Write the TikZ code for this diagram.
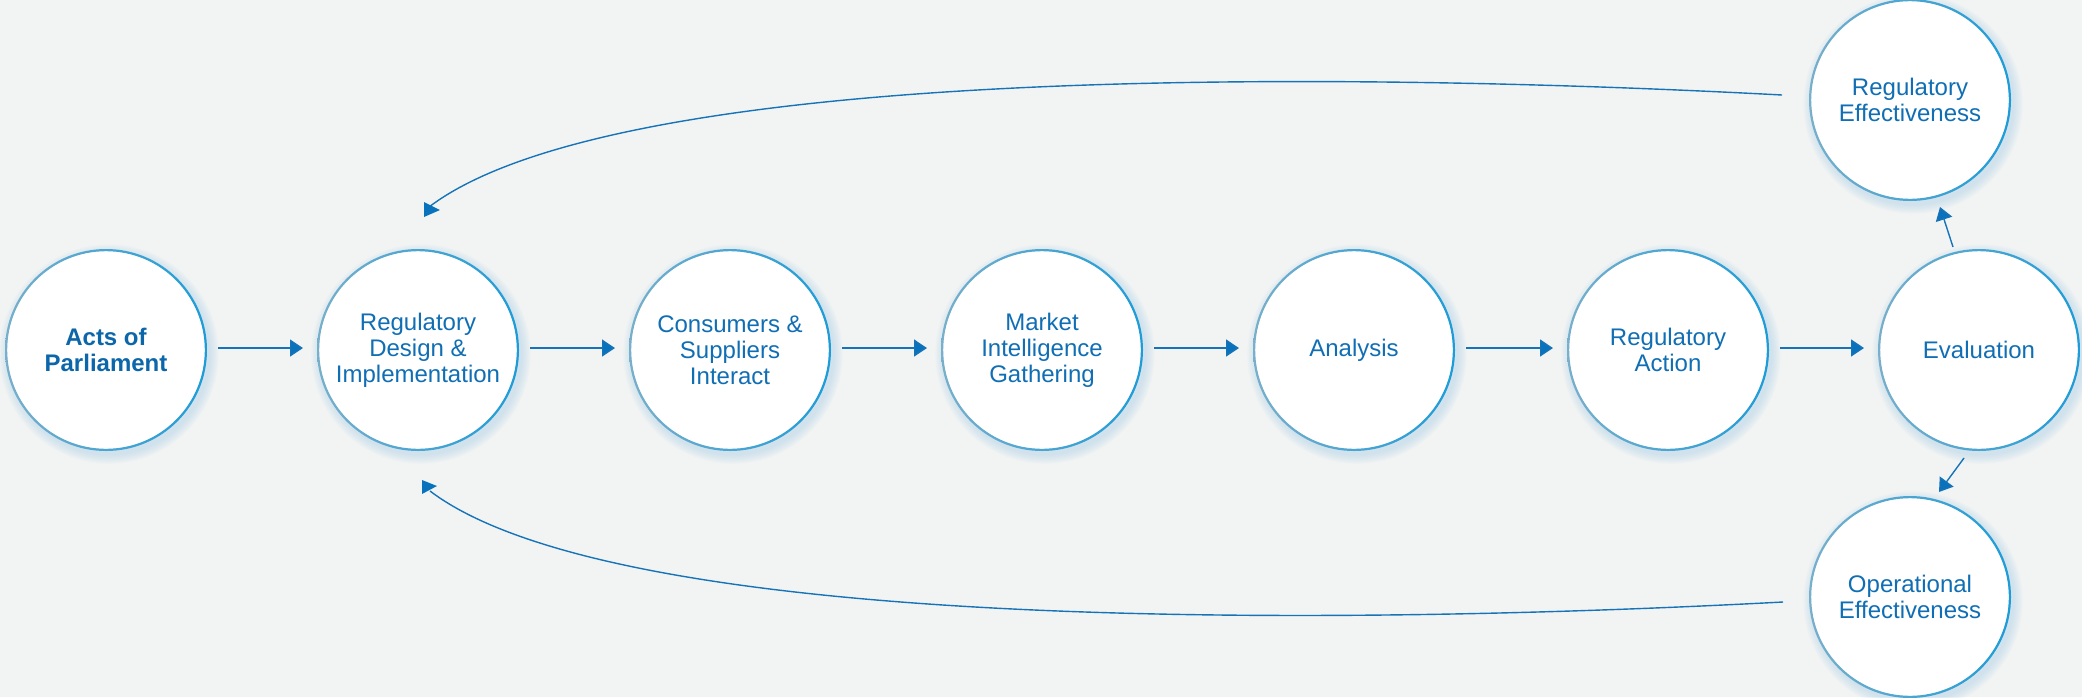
\documentclass[tikz,border=0pt]{standalone}
\usepackage{fontspec}
\setmainfont{Liberation Sans}
\usetikzlibrary{arrows.meta}
\definecolor{bg}{HTML}{F2F4F4}
\definecolor{txt}{HTML}{106EB4}
\definecolor{txtb}{HTML}{0B66AA}
\definecolor{ringL}{HTML}{78AFCB}
\definecolor{ringR}{HTML}{1C9CD8}
\definecolor{glow}{HTML}{A8CFE6}
\definecolor{lnc}{HTML}{1673B8}
\definecolor{headc}{HTML}{0872BC}
\begin{document}
\begin{tikzpicture}[x=0.5pt,y=-0.5pt,
  bub/.style={circle,minimum size=99pt,inner sep=0pt,outer sep=0pt,fill=white,text=txt,align=center,font=\fontsize{12pt}{13pt}\selectfont},
  conn/.style={draw=lnc,line width=0.7pt},
  arr/.style={conn,-{Triangle[length=6.5pt,width=8.5pt,fill=headc]}},
  glowc/.style={fill=glow,opacity=0.085}
]
\fill[bg] (0,0) rectangle (2082,697);
\useasboundingbox (0,0) rectangle (2082,697);
% soft glow
\foreach \x/\y in {106/350,418/350,730/350,1042/350,1354/350,1668/350,1979/350,1910/100,1910/597}{
  \foreach \k in {1,...,6}{
    \fill[glowc] (\x+3,\y+4) circle[radius={(50+0.8*\k)*1pt}];
  }
}
% nodes
\node[bub] (ap) at (106,350) {\textbf{\color{txtb}Acts of}\\\textbf{\color{txtb}Parliament}};
\node[bub] (rd) at (418,350) {Regulatory\\Design \&\\Implementation};
\node[bub] (cs) at (730,350) {Consumers \&\\Suppliers\\Interact};
\node[bub] (mi) at (1042,350) {Market\\Intelligence\\Gathering};
\node[bub] (an) at (1354,350) {Analysis};
\node[bub] (ra) at (1668,350) {Regulatory\\Action};
\node[bub] (ev) at (1979,350) {Evaluation};
\node[bub] (re) at (1910,100) {Regulatory\\Effectiveness};
\node[bub] (oe) at (1910,597) {Operational\\Effectiveness};
% rings
\foreach \n in {ap,rd,cs,mi,an,ra,ev,re,oe}{
  \shade[left color=ringL,right color=ringR,even odd rule] (\n.center) circle[radius=50.5pt] (\n.center) circle[radius=49.4pt];
}
% horizontal connectors
\foreach \a/\b in {ap/rd,rd/cs,cs/mi,mi/an,an/ra,ra/ev}{
  \draw[arr] ([xshift=6.5pt,yshift=1pt]\a.east) -- ([xshift=-8pt,yshift=1pt]\b.west);
}
% evaluation branches
\draw[arr] ([shift={(-26,-103)}]ev.center) -- ([shift={(30,107)}]re.center);
\draw[arr] ([shift={(-15,108)}]ev.center) -- ([shift={(29,-105)}]oe.center);
% feedback curves
\draw[conn] ([shift={(-128,-5)}]re.center) .. controls (1350,72) and (620,62) .. ([shift={(11,-143)}]rd.center) coordinate (te);
\fill[headc] ([shift={(-5,-5)}]te) -- ++(16,8) -- ++(-16,7) -- cycle;
\draw[conn] ([shift={(-127,5)}]oe.center) .. controls (1350,625) and (620,635) .. ([shift={(12,141)}]rd.center) coordinate (be);
\fill[headc] ([shift={(-8,-11)}]be) -- ++(15,6) -- ++(-15,8) -- cycle;
\end{tikzpicture}
\end{document}
